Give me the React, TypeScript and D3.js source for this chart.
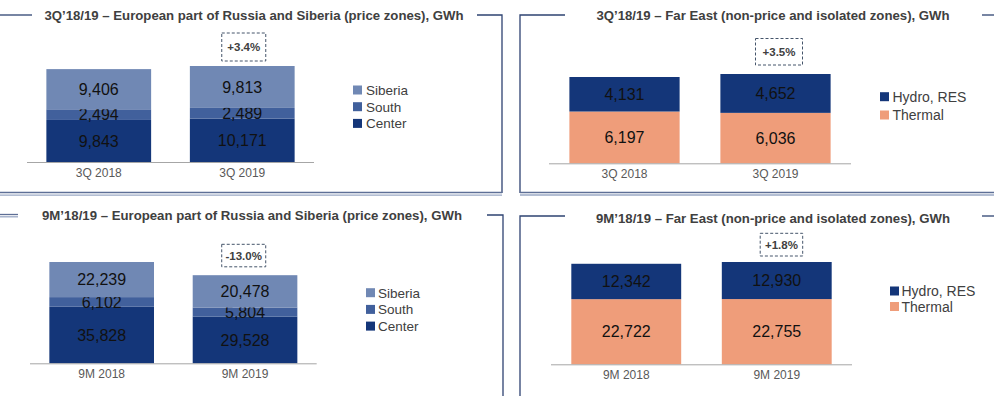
import React from "react";
import * as d3 from "d3";

// ---------- DATA ----------
const categories3Q = ["3Q 2018", "3Q 2019"];
const categories9M = ["9M 2018", "9M 2019"];

const center3Q = [9843, 10171];
const south3Q = [2494, 2489];
const siberia3Q = [9406, 9813];

const thermal3Q = [6197, 6036];
const hydro3Q = [4131, 4652];

const center9M = [35828, 29528];
const south9M = [6102, 5804];
const siberia9M = [22239, 20478];

const thermal9M = [22722, 22755];
const hydro9M = [12342, 12930];

const changes = ["+3.4%", "+3.5%", "-13.0%", "+1.8%"];

const titles = [
  "3Q\u201918/19 \u2013 European part of Russia and Siberia (price zones), GWh",
  "3Q\u201918/19 \u2013 Far East (non-price and isolated zones), GWh",
  "9M\u201918/19 \u2013 European part of Russia and Siberia (price zones), GWh",
  "9M\u201918/19 \u2013 Far East (non-price and isolated zones), GWh",
];

// ---------- STYLE ----------
const FONT = "'Liberation Sans', Arial, Helvetica, sans-serif";
const C_SIBERIA = "#7088B4";
const C_SOUTH = "#41609C";
const C_CENTER = "#143679";
const C_HYDRO = "#143679";
const C_THERMAL = "#EF9D7A";
const FRAME = "#2E4372";
const TITLE_COL = "#404040";
const fmt = d3.format(",");

type Series = { name: string; values: number[]; color: string };
type Panel = {
  title: string;
  titleX: number;
  titleY: number;
  categories: string[];
  series: Series[]; // bottom -> top
  xRange: [number, number];
  baseline: number;
  topPx: number;
  change: string;
  box: { dx: number; y: number; w: number; h: number };
  legend: { x: number; y0: number; dy: number; fs: number; textDx: number };
  catY: number;
};

const panels: Panel[] = [
  {
    title: titles[0],
    titleX: 254,
    titleY: 15,
    categories: categories3Q,
    series: [
      { name: "Center", values: center3Q, color: C_CENTER },
      { name: "South", values: south3Q, color: C_SOUTH },
      { name: "Siberia", values: siberia3Q, color: C_SIBERIA },
    ],
    xRange: [27, 314],
    baseline: 162,
    topPx: 66,
    change: changes[0],
    box: { dx: 1.5, y: 33, w: 44, h: 28 },
    legend: { x: 353, y0: 90, dy: 16.7, fs: 13.5, textDx: 13 },
    catY: 173,
  },
  {
    title: titles[1],
    titleX: 773,
    titleY: 15,
    categories: categories3Q,
    series: [
      { name: "Thermal", values: thermal3Q, color: C_THERMAL },
      { name: "Hydro, RES", values: hydro3Q, color: C_HYDRO },
    ],
    xRange: [549, 851],
    baseline: 163.3,
    topPx: 74,
    change: changes[1],
    box: { dx: 3.5, y: 38.5, w: 47, h: 26.5 },
    legend: { x: 880, y0: 96.7, dy: 18.3, fs: 14, textDx: 12.5 },
    catY: 173.5,
  },
  {
    title: titles[2],
    titleX: 252,
    titleY: 215.5,
    categories: categories9M,
    series: [
      { name: "Center", values: center9M, color: C_CENTER },
      { name: "South", values: south9M, color: C_SOUTH },
      { name: "Siberia", values: siberia9M, color: C_SIBERIA },
    ],
    xRange: [30, 316.7],
    baseline: 363.3,
    topPx: 262,
    change: changes[2],
    box: { dx: -1.3, y: 244.3, w: 44, h: 22.5 },
    legend: { x: 366, y0: 292.7, dy: 16.7, fs: 13.5, textDx: 12 },
    catY: 374,
  },
  {
    title: titles[3],
    titleX: 773,
    titleY: 218.5,
    categories: categories9M,
    series: [
      { name: "Thermal", values: thermal9M, color: C_THERMAL },
      { name: "Hydro, RES", values: hydro9M, color: C_HYDRO },
    ],
    xRange: [551, 852],
    baseline: 364.3,
    topPx: 262,
    change: changes[3],
    box: { dx: 4.7, y: 233.3, w: 42.5, h: 22.7 },
    legend: { x: 890, y0: 291, dy: 15.5, fs: 14, textDx: 11.5 },
    catY: 375,
  },
];

function PanelChart({ p }: { p: Panel }) {
  const table = p.categories.map((c, i) => {
    const row: any = { cat: c };
    p.series.forEach((s) => (row[s.name] = s.values[i]));
    return row;
  });
  const keys = p.series.map((s) => s.name);
  const stacked = d3.stack().keys(keys)(table);
  const maxTotal = d3.max(table, (r: any) => d3.sum(keys, (k) => r[k])) as number;

  const x = d3
    .scaleBand<string>()
    .domain(p.categories)
    .range(p.xRange)
    .paddingInner(0.27)
    .paddingOuter(0.135);
  const y = d3.scaleLinear().domain([0, maxTotal]).range([p.baseline, p.topPx]);

  const lastCat = p.categories[p.categories.length - 1];
  const boxCx = (x(lastCat) as number) + x.bandwidth() / 2 + p.box.dx;
  const legendItems = [...p.series].reverse();

  return (
    <g>
      <text
        x={p.titleX}
        y={p.titleY}
        dy="0.36em"
        textAnchor="middle"
        fontFamily={FONT}
        fontWeight="bold"
        fontSize={13.2}
        fill={TITLE_COL}
      >
        {p.title}
      </text>
      {stacked.map((layer, li) => (
        <g key={layer.key}>
          {layer.map((d: any, i: number) => {
            const cat = p.categories[i];
            const x0 = x(cat) as number;
            const y0 = y(d[1]);
            const y1 = y(d[0]);
            return (
              <g key={cat}>
                <rect x={x0} y={y0} width={x.bandwidth()} height={y1 - y0} fill={p.series[li].color} />
                <text
                  x={x0 + x.bandwidth() / 2}
                  y={(y0 + y1) / 2}
                  dy="0.36em"
                  textAnchor="middle"
                  fontFamily={FONT}
                  fontSize={16}
                  fill="#111111"
                >
                  {fmt(d[1] - d[0])}
                </text>
              </g>
            );
          })}
        </g>
      ))}
      <line
        x1={p.xRange[0]}
        x2={p.xRange[1]}
        y1={p.baseline + 0.5}
        y2={p.baseline + 0.5}
        stroke="#A6A6A6"
        strokeWidth={1}
      />
      {p.categories.map((c) => (
        <text
          key={c}
          x={(x(c) as number) + x.bandwidth() / 2}
          y={p.catY}
          dy="0.36em"
          textAnchor="middle"
          fontFamily={FONT}
          fontSize={12}
          fill="#595959"
        >
          {c}
        </text>
      ))}
      <rect
        x={boxCx - p.box.w / 2}
        y={p.box.y}
        width={p.box.w}
        height={p.box.h}
        fill="none"
        stroke="#44546A"
        strokeWidth={1}
        strokeDasharray="3,2"
      />
      <text
        x={boxCx}
        y={p.box.y + p.box.h / 2}
        dy="0.36em"
        textAnchor="middle"
        fontFamily={FONT}
        fontWeight="bold"
        fontSize={11.5}
        fill={TITLE_COL}
      >
        {p.change}
      </text>
      {legendItems.map((s, i) => {
        const cy = p.legend.y0 + i * p.legend.dy;
        return (
          <g key={s.name}>
            <rect x={p.legend.x} y={cy - 4.5} width={9} height={9} fill={s.color} />
            <text
              x={p.legend.x + p.legend.textDx}
              y={cy}
              dy="0.36em"
              fontFamily={FONT}
              fontSize={p.legend.fs}
              fill="#404040"
            >
              {s.name}
            </text>
          </g>
        );
      })}
    </g>
  );
}

function Frames() {
  const dark = FRAME;
  const light = "#9AA8C4";
  const w = 1.3;
  return (
    <g fill="none" strokeWidth={w}>
      {/* top-left panel */}
      <line x1={0} x2={32} y1={15} y2={15} stroke={dark} />
      <polyline points="477,15 502,15 502,193" stroke={dark} />
      <line x1={0} x2={502} y1={192.5} y2={192.5} stroke="#5E6F96" />
      <line x1={0} x2={502} y1={195.2} y2={195.2} stroke={light} />
      {/* top-right panel */}
      <polyline points="565,15 520,15 520,193" stroke={dark} />
      <line x1={982} x2={994} y1={15} y2={15} stroke={dark} />
      <line x1={520} x2={994} y1={192.5} y2={192.5} stroke="#5E6F96" />
      <line x1={520} x2={994} y1={195} y2={195} stroke={light} />
      {/* bottom-left panel */}
      <line x1={0} x2={18} y1={214.5} y2={214.5} stroke="#5E6F96" />
      <line x1={0} x2={18} y1={216.8} y2={216.8} stroke={light} />
      <polyline points="487,215 503,215 503,396" stroke={dark} />
      {/* bottom-right panel */}
      <polyline points="565,216 520,216 520,396" stroke={dark} />
      <line x1={982} x2={994} y1={216} y2={216} stroke={dark} />
    </g>
  );
}

export default function App() {
  return (
    <svg
      width={994}
      height={396}
      style={{ position: "absolute", left: 0, top: 0, background: "#ffffff" }}
    >
      <rect width={994} height={396} fill="#ffffff" />
      <Frames />
      {panels.map((p, i) => (
        <PanelChart key={i} p={p} />
      ))}
    </svg>
  );
}
